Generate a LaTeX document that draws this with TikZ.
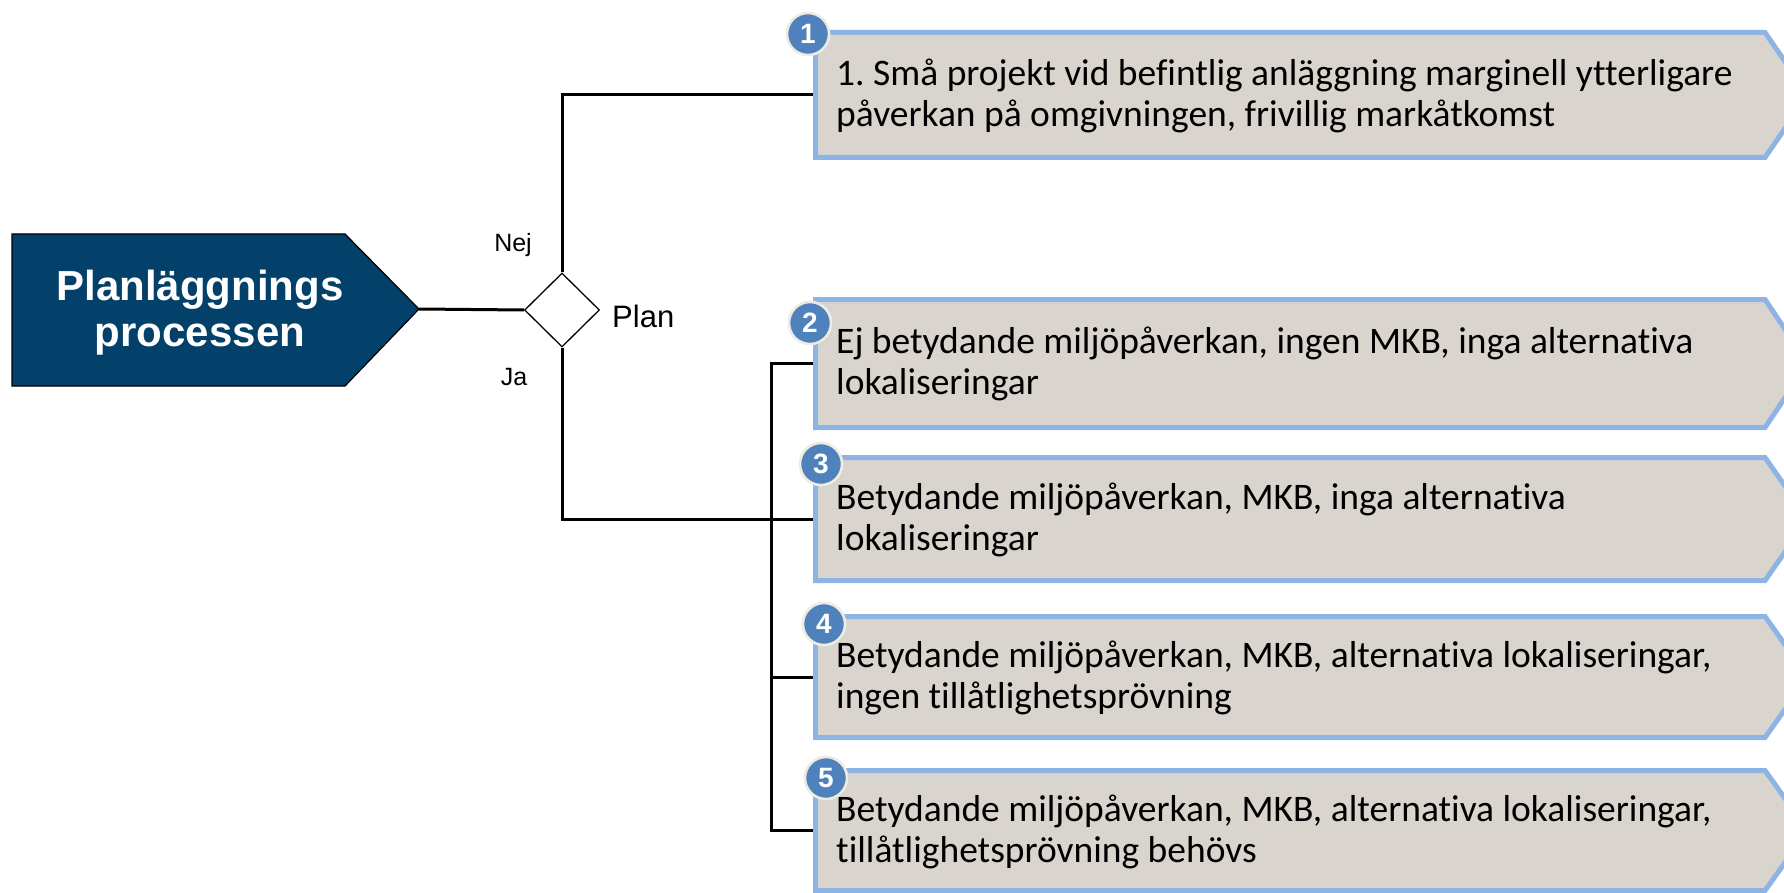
\documentclass[tikz,border=0pt]{standalone}
\usepackage{fontspec}
\setmainfont{Carlito}[Ligatures=NoCommon]
\newfontfamily\arialfont{Liberation Sans}
\usetikzlibrary{shapes.geometric}
\frenchspacing
\definecolor{navy}{RGB}{3,64,106}
\definecolor{boxfill}{RGB}{217,213,206}
\definecolor{boxline}{RGB}{141,180,227}
\definecolor{badgefill}{RGB}{79,129,189}
\definecolor{badgeline}{RGB}{238,236,225}
\tikzset{
  conn/.style={line width=3pt, black},
  stepbox/.style={fill=boxfill, draw=boxline, line width=5pt, line join=miter},
  boxtext/.style={anchor=west, inner sep=0pt, align=left, font=\fontsize{37.5}{41.5}\selectfont},
  badge/.style={circle, fill=badgefill, draw=badgeline, line width=2.5pt, minimum size=42pt, inner sep=0pt, text=white, font=\arialfont\bfseries\fontsize{28}{28}\selectfont},
  lbl/.style={inner sep=0pt, font=\arialfont\fontsize{25}{25}\selectfont}
}
\begin{document}
\begin{tikzpicture}[x=1pt,y=-1pt]
\useasboundingbox (0,0) rectangle (1784,893);
\clip (0,0) rectangle (1784,893);
% left pentagon
\draw[fill=navy, line width=1.2pt] (12,234) -- (345,234) -- (419,309) -- (345,386) -- (12,386) -- cycle;
\coordinate (pp) at (419,309);
\node[inner sep=0pt, text=white, align=center, font=\arialfont\bfseries\fontsize{42}{46}\selectfont] (title) at (200,313) {Planläggnings\\processen};
% diamond
\node[diamond, draw, line width=1.3pt, fill=white, minimum width=75pt, minimum height=74pt, inner sep=0pt] (d) at (562,310) {};
\node[lbl, anchor=west, font=\arialfont\fontsize{31}{31}\selectfont] (plan) at (612,316) {Plan};
\node[lbl] (nej) at (513,245) {Nej};
\node[lbl] (ja) at (514,377) {Ja};
% boxes
\foreach \i/\t/\b in {1/30/160, 2/297/430, 3/455/583, 4/614/740, 5/768/893}{
  \draw[stepbox] (815.5,\t+2.5) -- (1765,\t+2.5) -- (1808,{(\t+\b)/2}) -- (1765,\b-2.5) -- (815.5,\b-2.5) -- cycle;
  \coordinate (b\i w) at (813,{(\t+\b)/2});
}
\node[boxtext] (t1) at (836,96) {1. Små projekt vid befintlig anläggning marginell ytterligare\\påverkan på omgivningen, frivillig markåtkomst};
\node[boxtext] (t2) at (836,364) {Ej betydande miljöpåverkan, ingen MKB, inga alternativa\\lokaliseringar};
\node[boxtext] (t3) at (836,520) {Betydande miljöpåverkan, MKB, inga alternativa\\lokaliseringar};
\node[boxtext] (t4) at (836,678) {Betydande miljöpåverkan, MKB, alternativa lokaliseringar,\\ingen tillåtlighetsprövning};
\node[boxtext] (t5) at (836,832) {Betydande miljöpåverkan, MKB, alternativa lokaliseringar,\\tillåtlighetsprövning behövs};
% badges
\node[badge] (n1) at (808,34) {1};
\node[badge] (n2) at (810,323) {2};
\node[badge] (n3) at (821,464) {3};
\node[badge] (n4) at (824,624) {4};
\node[badge] (n5) at (826,778) {5};
% connectors
\coordinate (j) at (771,0);
\draw[conn] (pp) -- (d.west);
\draw[conn] (d.north) |- (b1w);
\draw[conn] (d.south) |- (b3w);
\draw[conn] (b2w) -| (j |- b5w) -- (b5w);
\draw[conn] (j |- b4w) -- (b4w);
% redraw badges on top of connector stubs
\node[badge] at (n1) {1};
\node[badge] at (n2) {2};
\node[badge] at (n3) {3};
\node[badge] at (n4) {4};
\node[badge] at (n5) {5};
\end{tikzpicture}
\end{document}
